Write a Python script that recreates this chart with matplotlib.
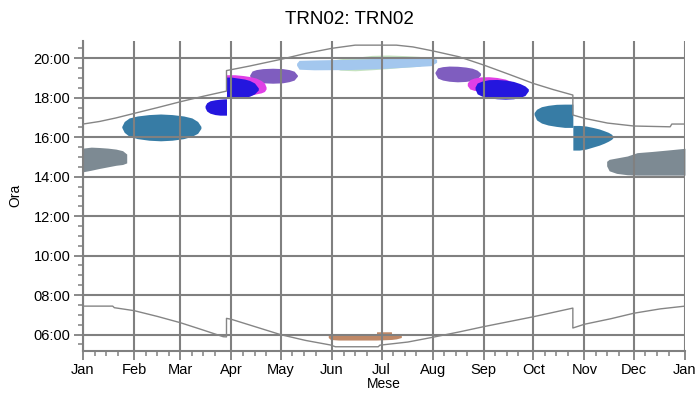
import matplotlib
matplotlib.use("Agg")
import matplotlib.pyplot as plt

plt.rcParams['font.family'] = ['Liberation Sans', 'DejaVu Sans']

# month starts (day of year) and labels
month_days = [0, 31, 59, 90, 120, 151, 181, 212, 243, 273, 304, 334, 365]
month_names = ['Jan', 'Feb', 'Mar', 'Apr', 'May', 'Jun', 'Jul', 'Aug',
               'Sep', 'Oct', 'Nov', 'Dec', 'Jan']
hour_ticks = [6, 8, 10, 12, 14, 16, 18, 20]

# sunrise / sunset (decimal hours, local time with DST jumps)
sunrise_day = [0, 18, 19, 31, 45, 59, 72, 85, 87, 87, 90, 105, 120, 135, 150,
               153, 179, 180, 197, 212, 228, 243, 258, 273, 285, 297, 297,
               304, 320, 334, 350, 365]
sunrise_hr = [7.44, 7.44, 7.36, 7.21, 6.92, 6.60, 6.25, 5.89, 5.88, 6.82, 6.77,
              6.38, 5.99, 5.70, 5.47, 5.38, 5.38, 5.46, 5.62, 5.86, 6.13, 6.40,
              6.65, 6.90, 7.12, 7.34, 6.33, 6.52, 6.80, 7.08, 7.30, 7.44]
sunset_day = [0, 10, 20, 31, 45, 59, 73, 87, 87, 101, 120, 135, 151, 165, 190,
              200, 212, 228, 243, 258, 273, 285, 297, 297, 304, 318, 334, 356,
              357, 365]
sunset_hr = [16.67, 16.80, 16.98, 17.21, 17.50, 17.80, 18.08, 18.34, 19.38,
             19.61, 19.95, 20.25, 20.51, 20.67, 20.67, 20.58, 20.38, 20.08,
             19.66, 19.20, 18.73, 18.42, 18.14, 17.13, 16.96, 16.72, 16.57,
             16.53, 16.67, 16.67]

# glare periods: day of year, lower and upper hour
gray_jan_day = [0, 5, 10, 15, 20, 24, 26.5]
gray_jan_lo = [14.25, 14.33, 14.42, 14.50, 14.58, 14.62, 14.70]
gray_jan_hi = [15.45, 15.50, 15.48, 15.45, 15.40, 15.32, 15.15]

teal_feb_day = [23.5, 25, 28, 33, 40, 47, 54, 61, 66, 69.5, 71.5]
teal_feb_lo = [16.50, 16.25, 16.05, 15.93, 15.85, 15.82, 15.85, 15.93, 16.05, 16.20, 16.45]
teal_feb_hi = [16.55, 16.80, 16.98, 17.08, 17.15, 17.18, 17.15, 17.08, 16.98, 16.80, 16.55]

blue_mar_day = [74, 75, 77, 80, 83, 86, 87]
blue_mar_lo = [17.50, 17.33, 17.22, 17.15, 17.12, 17.12, 17.12]
blue_mar_hi = [17.60, 17.75, 17.85, 17.90, 17.93, 17.95, 17.95]

purple_apr_day = [101, 102.5, 105, 109, 115, 121, 125, 128, 130]
purple_apr_lo = [19.12, 18.90, 18.82, 18.76, 18.74, 18.76, 18.82, 18.90, 19.10]
purple_apr_hi = [19.15, 19.36, 19.43, 19.48, 19.50, 19.48, 19.43, 19.35, 19.15]

magenta_apr_day = [87, 92, 97, 101, 105, 108, 110, 111]
magenta_apr_lo = [18.05, 18.05, 18.08, 18.12, 18.20, 18.25, 18.32, 18.45]
magenta_apr_hi = [19.17, 19.17, 19.13, 19.08, 19.00, 18.88, 18.75, 18.55]

blue_apr_day = [87, 90, 94, 98, 101, 104, 106.3]
blue_apr_lo = [17.98, 17.98, 18.00, 18.02, 18.08, 18.20, 18.40]
blue_apr_hi = [19.05, 19.05, 19.00, 18.95, 18.88, 18.75, 18.50]

green_jun_day = [150, 156, 165, 175, 185, 195, 204, 208]
green_jun_lo = [19.55, 19.40, 19.37, 19.42, 19.48, 19.55, 19.60, 19.75]
green_jun_hi = [19.90, 19.98, 20.05, 20.15, 20.17, 20.14, 20.10, 20.00]

sky_jun_day = [129.5, 131, 140, 160, 180, 195, 205, 211, 214.4]
sky_jun_lo = [19.65, 19.45, 19.42, 19.43, 19.48, 19.55, 19.60, 19.63, 19.80]
sky_jun_hi = [19.75, 19.90, 19.92, 19.95, 20.00, 20.05, 20.07, 20.05, 19.95]

brown_jun_day = [148.7, 150, 155, 165, 175, 177.9, 178, 187, 187.1, 190, 193]
brown_jun_lo = [5.85, 5.75, 5.72, 5.72, 5.72, 5.72, 5.72, 5.75, 5.75, 5.78, 5.85]
brown_jun_hi = [5.95, 6.00, 6.01, 6.01, 6.01, 6.01, 6.14, 6.14, 6.01, 6.00, 5.95]

purple_aug_day = [213.4, 215, 218, 222, 227, 232, 236, 239, 241]
purple_aug_lo = [19.25, 19.00, 18.90, 18.84, 18.81, 18.83, 18.88, 18.97, 19.15]
purple_aug_hi = [19.30, 19.52, 19.58, 19.61, 19.60, 19.56, 19.50, 19.40, 19.25]

magenta_sep_day = [233, 234.5, 237, 241, 246, 251, 256, 260, 262]
magenta_sep_lo = [18.62, 18.45, 18.38, 18.33, 18.30, 18.30, 18.35, 18.45, 18.60]
magenta_sep_hi = [18.75, 18.92, 19.00, 19.06, 19.07, 19.03, 18.95, 18.82, 18.65]

blue_sep_day = [237.7, 239, 242, 246, 251, 256, 261, 265, 268, 270]
blue_sep_lo = [18.45, 18.20, 18.08, 18.00, 17.95, 17.93, 17.95, 18.02, 18.12, 18.35]
blue_sep_hi = [18.55, 18.75, 18.85, 18.92, 18.93, 18.90, 18.83, 18.72, 18.60, 18.45]

teal_oct_day = [273.5, 275, 278, 282, 287, 292, 297]
teal_oct_lo = [17.15, 16.88, 16.72, 16.62, 16.55, 16.50, 16.50]
teal_oct_hi = [17.25, 17.42, 17.55, 17.62, 17.67, 17.68, 17.68]

teal_nov_day = [297, 301, 305, 309, 313, 316, 318.5, 320.5, 321.5]
teal_nov_lo = [15.35, 15.35, 15.40, 15.50, 15.60, 15.70, 15.80, 15.90, 16.00]
teal_nov_hi = [16.60, 16.60, 16.57, 16.50, 16.42, 16.33, 16.25, 16.15, 16.02]

gray_dec_day = [317.5, 319, 323.5, 330, 336, 345, 354, 365]
gray_dec_lo = [14.55, 14.30, 14.17, 14.10, 14.08, 14.08, 14.08, 14.08]
gray_dec_hi = [14.78, 14.88, 14.95, 15.05, 15.22, 15.28, 15.35, 15.44]

GRAY = '#7d8a93'
TEAL = '#377ca5'
BLUE = '#2416de'
MAGENTA = '#e03fe6'
PURPLE = '#7f5dbf'
SKY = '#a3c7ee'
GREEN = '#c6e3c0'
BROWN = '#bf8866'

blobs = [
    (gray_jan_day, gray_jan_lo, gray_jan_hi, GRAY),
    (teal_feb_day, teal_feb_lo, teal_feb_hi, TEAL),
    (blue_mar_day, blue_mar_lo, blue_mar_hi, BLUE),
    (purple_apr_day, purple_apr_lo, purple_apr_hi, PURPLE),
    (magenta_apr_day, magenta_apr_lo, magenta_apr_hi, MAGENTA),
    (blue_apr_day, blue_apr_lo, blue_apr_hi, BLUE),
    (green_jun_day, green_jun_lo, green_jun_hi, GREEN),
    (sky_jun_day, sky_jun_lo, sky_jun_hi, SKY),
    (brown_jun_day, brown_jun_lo, brown_jun_hi, BROWN),
    (purple_aug_day, purple_aug_lo, purple_aug_hi, PURPLE),
    (magenta_sep_day, magenta_sep_lo, magenta_sep_hi, MAGENTA),
    (blue_sep_day, blue_sep_lo, blue_sep_hi, BLUE),
    (teal_oct_day, teal_oct_lo, teal_oct_hi, TEAL),
    (teal_nov_day, teal_nov_lo, teal_nov_hi, TEAL),
    (gray_dec_day, gray_dec_lo, gray_dec_hi, GRAY),
]

fig = plt.figure(figsize=(6.99, 3.96), dpi=100)
ax = fig.add_axes([83 / 699, 45.3 / 396, 602 / 699, 309.7 / 396])

for d, lo, hi, c in blobs:
    ax.fill_between(d, lo, hi, color=c, linewidth=0, zorder=1)

ax.plot(sunrise_day, sunrise_hr, color='#858585', lw=1.0, zorder=3)
ax.plot(sunset_day, sunset_hr, color='#858585', lw=1.0, zorder=3)

ax.set_xlim(0, 365)
ax.set_ylim(5.18, 20.88)

# weekly minor ticks restarting at each month
minor_x = []
for a, b in zip(month_days[:-1], month_days[1:]):
    d = a + 7
    while b - d > 3:
        minor_x.append(d)
        d += 7
ax.set_xticks(month_days)
ax.set_xticklabels(month_names)
ax.set_xticks(minor_x, minor=True)

ax.set_yticks(hour_ticks)
ax.set_yticklabels(['%02d:00' % h for h in hour_ticks])
ax.set_yticks([h / 2 for h in range(11, 42)], minor=True)

gc = '#808080'
ax.grid(True, which='major', color=gc, lw=1.5)
ax.set_axisbelow(False)
for s in ['top', 'right']:
    ax.spines[s].set_visible(False)
for s in ['left', 'bottom']:
    ax.spines[s].set_color(gc)
    ax.spines[s].set_linewidth(1.5)
ax.tick_params(which='major', length=6.5, width=1.3, color=gc,
               labelsize=10.5, pad=2.5)
ax.tick_params(which='minor', length=3.5, width=1.1, color=gc)

ax.set_xlabel('Mese', fontsize=10, labelpad=0)
ax.set_ylabel('Ora', fontsize=10, labelpad=8)
fig.text(0.5, 0.952, 'TRN02: TRN02', ha='center', va='center', fontsize=13.5)

fig.savefig('out.png', dpi=100)
